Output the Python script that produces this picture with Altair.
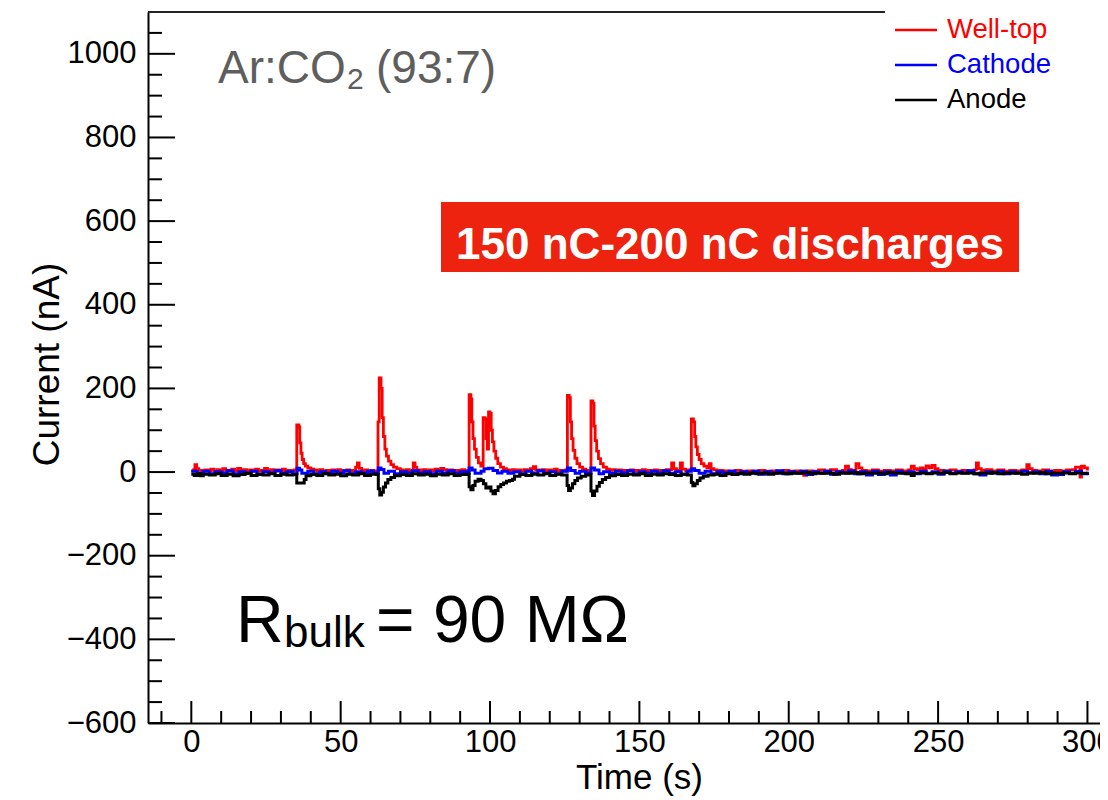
import altair as alt
import pandas as pd

# ---------------- data ----------------
SERIES = ["Well-top", "Cathode", "Anode"]
COLORS = ["#ff0000", "#0000ff", "#000000"]
WIDTHS = [2.8, 3.0, 3.0]

WELLTOP = [
    (0, 3), (0.8, 6), (1.2, 18), (1.8, 8), (2.5, 4), (3.5, 2), (4.5, 5), (5.5, 3), (6.5, 7), (7.5, 2),
    (8.5, 6), (9.5, 3), (10.5, 8), (11.5, 4), (12.5, 2), (13.5, 7), (14.5, 3), (15.5, 9), (16.5, 4),
    (17.5, 6), (18.5, 2), (19.5, 5), (20.5, 3), (21.5, 7), (22.5, 2), (23.5, 4), (24.5, 9), (25.5, 3),
    (26.5, 6), (27.5, 2), (28.5, 5), (29.5, 3), (30.5, 7), (31.5, 2), (32.5, 4), (33.5, 3), (34.5, 5),
    (35.3, 113), (36.0, 108), (36.3, 70), (36.7, 45), (37.1, 30), (37.6, 20), (38.2, 14), (39.0, 10),
    (40.0, 7), (41.0, 5), (42, 3), (43, 6), (44, 2), (45, 4), (46, 3), (47, 5), (48, 2), (49, 6), (50, 3),
    (51, 2), (52, 5), (53, 3), (54, 4), (55, 12), (55.6, 22), (56.2, 9), (57, 3), (58, 5), (59, 2), (60, 4),
    (61, 3), (62, 2),
    (62.5, 120), (62.9, 225), (63.5, 200), (63.9, 130), (64.3, 85), (64.8, 55), (65.3, 38), (66, 26),
    (66.8, 18), (67.7, 12), (68.8, 8), (70, 5), (71, 3), (72, 6), (73, 2), (74, 4), (74.3, 22), (74.9, 12),
    (75.5, 5), (76.5, 3), (77.5, 6), (78.5, 2), (79.5, 5), (80.5, 3), (81.5, 7), (82.5, 4), (83.5, 9),
    (84.5, 6), (85.5, 3), (86.5, 5), (87.5, 2), (88.5, 4), (89.5, 3), (90.5, 6), (91.5, 2), (92.5, 4),
    (93.0, 185), (93.6, 175), (93.9, 120), (94.3, 80), (94.8, 55), (95.4, 35), (96.1, 22), (96.9, 14),
    (97.7, 130), (98.3, 127), (98.7, 80), (99.1, 55), (99.5, 144), (100.0, 140), (100.4, 100), (100.8, 72),
    (101.3, 50), (101.9, 33), (102.6, 20), (103.5, 12), (104.5, 8), (105.5, 5), (106.5, 3), (107.5, 6),
    (108.5, 3), (109.5, 5), (110.5, 2), (111.5, 6), (112.5, 4), (113.5, 8), (114.5, 13), (115.3, 5),
    (116.5, 3), (117.5, 6), (118.5, 2), (119.5, 5), (120.5, 3), (121.5, 7), (122.5, 2), (123.5, 4),
    (124.5, 3), (125.3, 5),
    (125.9, 183), (126.5, 178), (126.9, 120), (127.3, 80), (127.8, 52), (128.4, 33), (129.1, 20), (130, 12),
    (131, 7), (132, 4), (133, 3),
    (133.8, 170), (134.4, 165), (134.8, 110), (135.2, 75), (135.7, 50), (136.3, 32), (137.0, 20),
    (137.9, 12), (139, 7), (140, 4), (141, 6), (142, 3), (143, 5), (144, 2), (145, 4), (146, 3), (147, 5),
    (148, 2), (149, 4), (150, 3), (151, 6), (152, 2), (153, 4), (154, 3), (155, 5), (156, 2), (157, 4),
    (158, 3), (159, 6), (160.8, 22), (161.5, 8), (162.5, 4), (163.7, 22), (164.4, 7), (165.5, 3), (166.5, 5),
    (167.4, 127), (168.1, 120), (168.5, 85), (168.9, 60), (169.4, 42), (170, 30), (170.7, 20), (171.6, 14),
    (172.6, 10), (173.4, 20), (174, 8), (175, 5), (176, 3), (177, 4), (178, 2), (179, 3), (180, 2),
    (182, 4), (184, 2), (186, 3), (188, 2), (190, 4), (192, 2), (194, 3), (196, 2), (198, 4), (200, 2),
    (202, 3), (204, 2), (205, -8), (206, 3), (208, 2), (210, 5), (212, 3), (214, 6), (216, 2), (218, 4),
    (219, 14), (220, 6), (221, 3), (222.5, 20), (223.5, 10), (224.5, 4), (226, 3), (228, 5), (230, 2),
    (232, 4), (234, 3), (236, 5), (238, 3), (240, 5), (241, 14), (242, 8), (243, 5), (244, 10), (245, 6),
    (246, 15), (247, 10), (248, 16), (249, 8), (250, 4), (252, 3), (254, 5), (256, 2), (258, 4), (260, 3),
    (262, 5), (262.8, 22), (263.5, 8), (264.5, 4), (266, 6), (268, 3), (270, 5), (272, 2), (274, 4),
    (276, 3), (278, 5), (279.7, 18), (280.5, 8), (281.5, 4), (283, 3), (285, 5), (287, 2), (289, 4),
    (291, 3), (293, 5), (295, 6), (296, 12), (297.5, -12), (298, 14), (299, 10), (300, 4),
]

CATHODE = [
    (0, 2), (2, -3), (4, 2), (6, -4), (8, 1), (10, -2), (12, 3), (14, -4), (16, 1), (18, -3), (20, 2),
    (22, -5), (24, 1), (26, -2), (28, 3), (30, -3), (32, 1), (34, -4), (35.4, 9), (36.2, 5), (37, -3),
    (39, 2), (41, -4), (43, 1), (45, -3), (47, 2), (49, -2), (51, 3), (53, -4), (55, 1), (57, -2), (59, 2),
    (61, -3), (62.6, 10), (63.5, 6), (64.5, -3), (66, 2), (68, -4), (70, 1), (72, -2), (74, 3), (76, -3),
    (78, 1), (80, -4), (82, 2), (84, -2), (86, 3), (88, -3), (90, 1), (92, -2), (93, 10), (94, 5), (95, -3),
    (97, 2), (98, 8), (99.5, 9), (101, 4), (102.5, -2), (104, 2), (106, -3), (108, 1), (110, -4), (112, 2),
    (114, -2), (116, 3), (118, -3), (120, 1), (122, -4), (124, 2), (125.9, 10), (127, 4), (128.5, -3),
    (130, 2), (132, -2), (133.8, 10), (135, 5), (136.5, -4), (138, 1), (140, -3), (142, 2), (144, -2),
    (146, 3), (148, -4), (150, 1), (152, -3), (154, 2), (156, -2), (158, 3), (160, -3), (162, 1), (164, -5),
    (166, 2), (167.4, 8), (168.5, 4), (170, -3), (172, 2), (174, -4), (176, 1), (178, -2), (180, 2),
    (182, -4), (184, 1), (186, -3), (188, 2), (190, -5), (192, 1), (194, -2), (196, 3), (198, -4), (200, 1),
    (202, -3), (204, 2), (206, -6), (208, 1), (210, -3), (212, 2), (214, -5), (216, 1), (218, -2), (220, 3),
    (222, -4), (224, 1), (226, -7), (228, 2), (230, -6), (232, 1), (234, -7), (236, 2), (238, -3), (240, 1),
    (242, -4), (244, 2), (246, -3), (248, 1), (250, -5), (252, 2), (254, -3), (256, 1), (258, -2), (260, 3),
    (262, -4), (264, -7), (266, 1), (268, -3), (270, 2), (272, -4), (274, 1), (276, -3), (278, 2), (280, -2),
    (282, 1), (284, -4), (286, 2), (288, -7), (290, -6), (292, 1), (294, -3), (296, 2), (298, -4), (300, 1),
]

ANODE = [
    (0, -5), (1, -8), (2, -4), (3, -9), (4, -5), (6, -7), (8, -4), (10, -8), (12, -5), (14, -9), (16, -6),
    (18, -3), (20, -8), (22, -5), (24, -7), (26, -4), (28, -8), (30, -5), (32, -7), (34, -6), (35.3, -26),
    (37.8, -18), (38.4, -9), (40, -6), (42, -8), (44, -4), (46, -7), (48, -5), (50, -9), (52, -5), (54, -7),
    (56, -4), (58, -8), (60, -5), (62, -6),
    (62.6, -40), (63.1, -55), (63.7, -48), (64.3, -36), (65, -26), (65.8, -18), (66.8, -13), (68, -9),
    (70, -6), (72, -8), (74, -4), (76, -7), (78, -5), (80, -9), (82, -5), (84, -7), (86, -4), (88, -8),
    (90, -6), (92, -5),
    (93, -35), (93.6, -42), (94.3, -32), (95, -22), (96, -17), (97, -20), (97.8, -28), (98.6, -38),
    (99.4, -36), (100.3, -45), (101, -52), (101.8, -44), (102.7, -35), (103.6, -30), (104.5, -26),
    (105.5, -22), (106.5, -20), (107.5, -17), (108.2, -10), (110, -6), (112, -8), (114, -5), (116, -7),
    (118, -4), (120, -8), (122, -5), (124, -7),
    (125.8, -32), (126.3, -44), (126.9, -38), (127.6, -28), (128.4, -20), (129.3, -14), (130.5, -10),
    (132, -7), (133.2, -6),
    (133.8, -45), (134.3, -56), (135, -45), (135.8, -34), (136.6, -25), (137.6, -18), (138.7, -13),
    (140, -9), (142, -6), (144, -8), (146, -5), (148, -7), (150, -4), (152, -8), (154, -5), (156, -7),
    (158, -4), (160, -6), (162, -8), (164, -5), (166, -7),
    (167.4, -25), (167.9, -33), (168.6, -28), (169.4, -20), (170.3, -14), (171.4, -10), (173, -7),
    (175, -5), (177, -8), (179, -4), (181, -6), (183, -3), (185, -5), (187, -2), (189, -4), (191, -2),
    (193, -5), (195, -3), (197, -2), (199, -4), (201, -2), (203, -3), (205, -1), (207, -4), (209, -2),
    (211, -3), (213, -2), (215, -5), (217, -2), (219, -3), (221, -1), (223, -4), (225, -2), (227, -3),
    (229, -2), (231, -4), (233, -1), (235, -3), (237, -2), (239, -4), (241, -8), (242, -3), (244, -2),
    (246, -4), (248, -2), (250, -3), (252, -1), (254, -4), (256, -2), (258, -3), (260, -2), (262, -4),
    (264, -2), (266, -3), (268, -1), (270, -4), (272, -2), (274, -3), (276, -2), (278, -5), (280, -2),
    (282, -3), (284, -1), (286, -4), (288, -2), (290, -3), (292, -2), (294, -4), (296, -2), (298, -3),
    (300, -2),
]

X_MAJOR = [0, 50, 100, 150, 200, 250, 300]
X_MINOR = [-10, 10, 20, 30, 40, 60, 70, 80, 90, 110, 120, 130, 140, 160, 170, 180, 190,
           210, 220, 230, 240, 260, 270, 280, 290]
Y_MAJOR = [-600, -400, -200, 0, 200, 400, 600, 800, 1000]
Y_MINOR = [-550, -500, -450, -350, -300, -250, -150, -100, -50, 50, 100, 150, 250, 300, 350,
           450, 500, 550, 650, 700, 750, 850, 900, 950, 1050]

X_DOMAIN = [-14.5, 304.2]
Y_DOMAIN = [-600, 1100]

# ---------------- layout ----------------
W, H = 952, 711
FONT = "Liberation Sans"

xs = alt.Scale(domain=X_DOMAIN, nice=False, zero=False)
ys = alt.Scale(domain=Y_DOMAIN, nice=False, zero=False)

XAX = alt.Axis(values=X_MAJOR, format="d", ticks=False, grid=False, domainColor="black",
               domainWidth=2, labelFont=FONT, labelFontSize=31, labelColor="black",
               labelPadding=4, labelFlush=False, labelOverlap=False,
               title="Time (s)", titleFont=FONT, titleFontSize=35, titleFontWeight="normal",
               titleColor="black", titleX=491, titleY=65, titleAlign="center",
               titleBaseline="alphabetic")
YAX = alt.Axis(values=Y_MAJOR, format="d", ticks=False, grid=False, domainColor="black",
               domainWidth=2, labelFont=FONT, labelFontSize=31, labelColor="black",
               labelPadding=12, labelFlush=False, labelOverlap=False,
               title="Current (nA)", titleFont=FONT, titleFontSize=37, titleFontWeight="normal",
               titleColor="black", titleX=-90, titleY=352, titleAngle=270, titleAlign="center",
               titleBaseline="alphabetic")


def one():
    return pd.DataFrame({"k": [0]})


layers = []

# data lines
for name, color, sw, pts in zip(SERIES, COLORS, WIDTHS, [WELLTOP, CATHODE, ANODE]):
    df = pd.DataFrame(pts, columns=["t", "v"])
    layers.append(
        alt.Chart(df).mark_line(color=color, strokeWidth=sw, interpolate="step-after")
        .encode(x=alt.X("t:Q", scale=xs, axis=XAX), y=alt.Y("v:Q", scale=ys, axis=YAX))
    )

# inward ticks (ROOT style)
layers.append(alt.Chart(pd.DataFrame({"v": Y_MAJOR})).mark_rule(color="black", strokeWidth=2)
              .encode(y=alt.Y("v:Q", scale=ys, axis=YAX), x=alt.value(0), x2=alt.value(27)))
layers.append(alt.Chart(pd.DataFrame({"v": Y_MINOR})).mark_rule(color="black", strokeWidth=2)
              .encode(y=alt.Y("v:Q", scale=ys, axis=YAX), x=alt.value(0), x2=alt.value(14)))
layers.append(alt.Chart(pd.DataFrame({"v": X_MAJOR})).mark_rule(color="black", strokeWidth=2)
              .encode(x=alt.X("v:Q", scale=xs, axis=XAX), y=alt.value(H), y2=alt.value(H - 22)))
layers.append(alt.Chart(pd.DataFrame({"v": X_MINOR})).mark_rule(color="black", strokeWidth=2)
              .encode(x=alt.X("v:Q", scale=xs, axis=XAX), y=alt.value(H), y2=alt.value(H - 12)))

# top frame line (hidden under the legend on the right)
layers.append(alt.Chart(one()).mark_rule(color="#222222", strokeWidth=2)
              .encode(x=alt.value(0), x2=alt.value(737), y=alt.value(0)))

# legend
LEG_Y = [18, 53, 88]
for name, color, ly in zip(SERIES, COLORS, LEG_Y):
    layers.append(alt.Chart(one()).mark_rule(color=color, strokeWidth=2.5)
                  .encode(x=alt.value(747), x2=alt.value(789), y=alt.value(ly)))
    layers.append(alt.Chart(one()).mark_text(text=name, color=color, font=FONT, fontSize=27.5,
                                             align="left", baseline="middle")
                  .encode(x=alt.value(799), y=alt.value(ly)))

# gas label
GRAY = "#5e5e5e"
layers.append(alt.Chart(one()).mark_text(text="Ar:CO", color=GRAY, font=FONT, fontSize=46,
                                         align="left", baseline="alphabetic")
              .encode(x=alt.value(70), y=alt.value(71)))
layers.append(alt.Chart(one()).mark_text(text="2", color=GRAY, font=FONT, fontSize=30,
                                         align="left", baseline="alphabetic")
              .encode(x=alt.value(199), y=alt.value(77)))
layers.append(alt.Chart(one()).mark_text(text="(93:7)", color=GRAY, font=FONT, fontSize=46,
                                         align="left", baseline="alphabetic")
              .encode(x=alt.value(228), y=alt.value(71)))

# red banner
layers.append(alt.Chart(one()).mark_rect(color="#ED2310")
              .encode(x=alt.value(293), x2=alt.value(871), y=alt.value(190), y2=alt.value(260)))
layers.append(alt.Chart(one()).mark_text(text="150 nC-200 nC discharges", color="white", font=FONT,
                                         fontSize=44, fontWeight="bold", align="center",
                                         baseline="alphabetic")
              .encode(x=alt.value(582), y=alt.value(247)))

# R_bulk label
layers.append(alt.Chart(one()).mark_text(text="R", color="black", font=FONT, fontSize=66,
                                         align="left", baseline="alphabetic")
              .encode(x=alt.value(88), y=alt.value(630)))
layers.append(alt.Chart(one()).mark_text(text="bulk", color="black", font=FONT, fontSize=44,
                                         align="left", baseline="alphabetic")
              .encode(x=alt.value(136), y=alt.value(635)))
layers.append(alt.Chart(one()).mark_text(text="= 90 MΩ", color="black", font=FONT, fontSize=66,
                                         align="left", baseline="alphabetic")
              .encode(x=alt.value(228), y=alt.value(630)))

chart = (
    alt.layer(*layers)
    .properties(width=W, height=H, autosize=alt.AutoSizeParams(type="none"),
                padding={"left": 140, "top": 4, "right": 0, "bottom": 76}, background="white")
    .configure_view(stroke=None)
)

chart.save("out.html", embed_options={"renderer": "svg", "actions": False})
